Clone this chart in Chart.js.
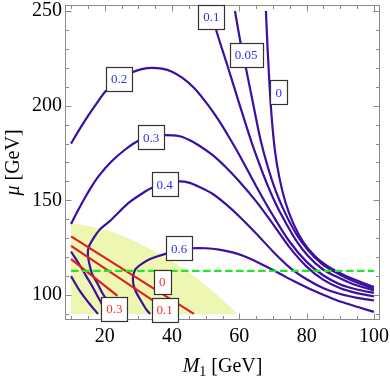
<!DOCTYPE html>
<html>
<head>
<meta charset="utf-8">
<script src="https://cdn.jsdelivr.net/npm/chart.js@4.4.1/dist/chart.umd.min.js"></script>
<style>
html,body{margin:0;padding:0;background:#fff;}
#wrap{width:390px;height:379px;position:relative;}
</style>
</head>
<body>
<div id="wrap"><canvas id="c" width="390" height="379"></canvas></div>
<script>
// ---- tick labels ----
const xTicks = [20, 40, 60, 80, 100];
const yTicks = [100, 150, 200, 250];

// ---- blue contour lines [M1, mu] ----
const contour0 = [[67.9,250],[68.4,230],[69.0,210],[69.7,192],[70.6,176],[71.9,162],[73.7,149],[76,138],[79,128],[82.5,120.5],[86,115.5],[90,111.5],[94,108.3],[97,106.2],[100,104.3]];
const contour005 = [[58.7,250],[60.4,233],[62,219.5],[64.1,201],[66.3,182],[68.4,168],[70.8,155],[73.7,143],[77,132],[80.5,123.5],[84.5,116.5],[88,112.5],[91.5,109.3],[95.5,106.2],[100,103.3]];
const contour01 = [[51.5,250],[53.4,238.3],[56.5,221],[60,201],[63.4,182],[66,169],[68.5,157.5],[71,147.5],[74,137.5],[77,128.5],[80.5,120.5],[84.5,114],[88.5,110],[93.5,106],[100,102.4]];
const contour02 = [[10,180],[12.5,187.5],[15,194.5],[17.5,201],[20.2,207.5],[24,213.5],[28,217.5],[31,219.3],[34,220],[37,219.6],[40,218],[43,214.8],[46.5,209.5],[50,202],[54,192],[57.4,182],[60,174],[65,157.5],[70,142],[75,128],[80,117.5],[85,110.3],[90,105.6],[95,102.9],[100,101.1]];
const contour03 = [[10,137.5],[12,144.5],[14,151],[16,157],[18.2,162.8],[22,170.5],[26.2,177],[30,181.5],[34,183.8],[38,184.5],[42,184],[45,182],[48,179],[52,174],[56,167.5],[60,160],[65,149.5],[70,137.5],[75,125],[80,115],[85,108],[90,103.6],[95,101],[100,99.3]];
const contour04 = [[23.3,90],[21.5,95.5],[19.5,100.4],[18,105.6],[16.3,111],[15.5,116],[15,121],[15.2,125],[16.5,129.5],[18.5,134.5],[21.8,139.5],[27,148.5],[31,153.5],[34.5,157],[38,159],[42,160],[45,159.4],[48,157.2],[52,153.5],[56,148],[60,141.5],[65,132.5],[70,123],[75,114.5],[80,108.3],[85,103.6],[90,100.5],[95,98.5],[100,97.1]];
const contour06 = [[33.5,90],[32.3,92.5],[30.6,97.5],[29.2,102],[28.5,106],[28.4,109.5],[29.1,113.5],[31,116.5],[33.5,119],[36,120.6],[38.5,122],[42,123.8],[46,124.7],[50,124.7],[54,124],[58,122.5],[61.3,120.6],[66,116.8],[71,112.3],[76,107.5],[81,103.2],[86,99.4],[91,96],[95.5,93.5],[100,91.1]];
const branchC = [[10,123],[12.5,116],[14.5,110],[16.5,104],[18,99],[19.2,95],[20,90]];
const branchD = [[10,110],[12.3,103],[15.2,96],[18,90]];

// ---- red lines ----
const redA = [[10,131],[46.5,90]];
const redB = [[10,126],[40.3,90]];
const redC = [[10,119],[23.8,99.5]];

// ---- green dashed line ----
const greenLine = [[10,112.7],[100,112.7]];

// ---- shaded region upper boundary (filled down to mu = 90) ----
const regionTop = [[10,138],[15,136.5],[20,134.5],[25,131.5],[30,127.5],[35,123],[40,118],[45,112],[50,105],[55,97.5],[59.5,90]];
const regionFloor = 90;

// ---- contour labels ----
const blueLabelText = ['0.2','0.3','0.4','0.6','0.1','0.05','0'];
const blueLabelX = [24.3, 33.8, 37.8, 42.1, 51.7, 62.0, 71.7];
const blueLabelY = [214.2, 183.3, 158.4, 124.6, 247.1, 227.0, 207.0];
const redLabelText = ['0.3','0.1','0'];
const redLabelX = [22.9, 37.8, 37.1];
const redLabelY = [92.7, 92.2, 107.0];

const BLUE = '#3c0fa0';
const RED = '#dd1f1f';
const GREEN = '#27e627';
const YELLOW = 'rgb(238,247,178)';

const toXY = a => a.map(p => ({x: p[0], y: p[1]}));
function line(points, color, width, order, opts) {
  return Object.assign({
    data: toXY(points), showLine: true, borderColor: color, borderWidth: width,
    pointRadius: 0, pointHoverRadius: 0, fill: false, tension: 0,
    order: order, borderCapStyle: 'butt', borderJoinStyle: 'round'
  }, opts || {});
}
const mono = {cubicInterpolationMode: 'monotone'};
const bez = {tension: 0.3};

const datasets = [
  {data: toXY(regionTop), showLine: true, borderColor: 'rgba(0,0,0,0)', borderWidth: 1,
   backgroundColor: YELLOW, fill: {value: regionFloor}, pointRadius: 0, cubicInterpolationMode: 'monotone', order: 10},
  line(contour0, BLUE, 2.2, 5, mono), line(contour005, BLUE, 2.2, 5, mono), line(contour01, BLUE, 2.2, 5, mono),
  line(contour02, BLUE, 2.2, 5, mono), line(contour03, BLUE, 2.2, 5, mono), line(contour04, BLUE, 2.2, 5, bez),
  line(contour06, BLUE, 2.2, 5, bez), line(branchC, BLUE, 2.2, 5, bez), line(branchD, BLUE, 2.2, 5, bez),
  line(redA, RED, 2.2, 3), line(redB, RED, 2.2, 3), line(redC, RED, 2.2, 3),
  line(greenLine, GREEN, 2.2, 1, {borderDash: [7.5, 3.5]})
];

const SERIF = '"Liberation Serif", "Times New Roman", serif';

const framePlugin = {
  id: 'frame',
  afterDraw(chart) {
    const {ctx, chartArea: a, scales: {x, y}} = chart;
    ctx.save();
    ctx.strokeStyle = '#8a8a8a';
    ctx.lineWidth = 1;
    const L = Math.round(a.left) + 0.5, R = Math.round(a.right) - 0.5;
    const T = Math.round(a.top) + 0.5, B = Math.round(a.bottom) - 0.5;
    ctx.strokeRect(L, T, R - L, B - T);
    ctx.beginPath();
    for (let v = 10; v <= 100; v += 5) {
      const px = Math.round(x.getPixelForValue(v)) + 0.5;
      const len = (v % 20 === 0) ? 6 : 3.5;
      ctx.moveTo(px, B); ctx.lineTo(px, B - len);
      ctx.moveTo(px, T); ctx.lineTo(px, T + len);
    }
    for (let v = 90; v <= 250; v += 10) {
      const py = Math.round(y.getPixelForValue(v)) + 0.5;
      const len = (v % 50 === 0) ? 6 : 3.5;
      ctx.moveTo(L, py); ctx.lineTo(L + len, py);
      ctx.moveTo(R, py); ctx.lineTo(R - len, py);
    }
    ctx.stroke();

    function box(t, vx, vy, color) {
      const cx = x.getPixelForValue(vx), cy = y.getPixelForValue(vy);
      ctx.font = '13px ' + SERIF;
      const w = Math.round(ctx.measureText(t).width + 10), h = 24;
      const bx = Math.round(cx - w / 2) + 0.5, by = Math.round(cy - h / 2) + 0.5;
      ctx.fillStyle = '#fff';
      ctx.fillRect(bx, by, w, h);
      ctx.strokeStyle = '#333';
      ctx.lineWidth = 1.2;
      ctx.strokeRect(bx, by, w, h);
      ctx.fillStyle = color;
      ctx.textAlign = 'center';
      ctx.textBaseline = 'middle';
      ctx.fillText(t, cx, cy + 1);
    }
    blueLabelText.forEach((t, i) => box(t, blueLabelX[i], blueLabelY[i], '#3030f5'));
    redLabelText.forEach((t, i) => box(t, redLabelX[i], redLabelY[i], '#ff2a2a'));

    ctx.fillStyle = '#000';
    ctx.textBaseline = 'alphabetic';
    ctx.textAlign = 'left';
    const big = '20px ' + SERIF, ital = 'italic 20px ' + SERIF, small = '14px ' + SERIF;
    ctx.font = ital; const wM = ctx.measureText('M').width;
    ctx.font = small; const w1 = ctx.measureText('1').width;
    ctx.font = big; const wG = ctx.measureText(' [GeV]').width;
    const tot = wM + w1 + wG;
    let sx = (a.left + a.right) / 2 - tot / 2;
    const base = 372;
    ctx.font = ital; ctx.fillText('M', sx, base); sx += wM;
    ctx.font = small; ctx.fillText('1', sx, base + 4); sx += w1;
    ctx.font = big; ctx.fillText(' [GeV]', sx, base);
    ctx.save();
    ctx.translate(19, (a.top + a.bottom) / 2);
    ctx.rotate(-Math.PI / 2);
    ctx.font = ital; const wmu = ctx.measureText('μ').width;
    ctx.font = big; const wg2 = ctx.measureText(' [GeV]').width;
    let sy = -(wmu + wg2) / 2;
    ctx.font = ital; ctx.fillText('μ', sy, 0); sy += wmu;
    ctx.font = big; ctx.fillText(' [GeV]', sy, 0);
    ctx.restore();
    ctx.restore();
  }
};

new Chart(document.getElementById('c'), {
  type: 'scatter',
  data: {datasets},
  options: {
    responsive: false, animation: false, devicePixelRatio: 1,
    layout: {autoPadding: false, padding: {left: 0, right: 10, top: 5, bottom: 0}},
    plugins: {legend: {display: false}, tooltip: {enabled: false}},
    scales: {
      x: {
        type: 'linear', min: 8.2, max: 101.8,
        grid: {display: false, drawTicks: false}, border: {display: false},
        ticks: {font: {family: SERIF, size: 20}, color: '#000', padding: 5, maxRotation: 0, autoSkip: false},
        afterBuildTicks: s => { s.ticks = xTicks.map(v => ({value: v})); },
        afterFit: s => { s.height = 59; s.paddingLeft = 0; s.paddingRight = 0; }
      },
      y: {
        type: 'linear', min: 86.8, max: 253.2,
        grid: {display: false, drawTicks: false}, border: {display: false},
        ticks: {font: {family: SERIF, size: 20}, color: '#000', padding: 3, autoSkip: false},
        afterBuildTicks: s => { s.ticks = yTicks.map(v => ({value: v})); },
        afterFit: s => { s.width = 65; s.paddingTop = 0; s.paddingBottom = 0; }
      }
    }
  },
  plugins: [framePlugin]
});
</script>
</body>
</html>
